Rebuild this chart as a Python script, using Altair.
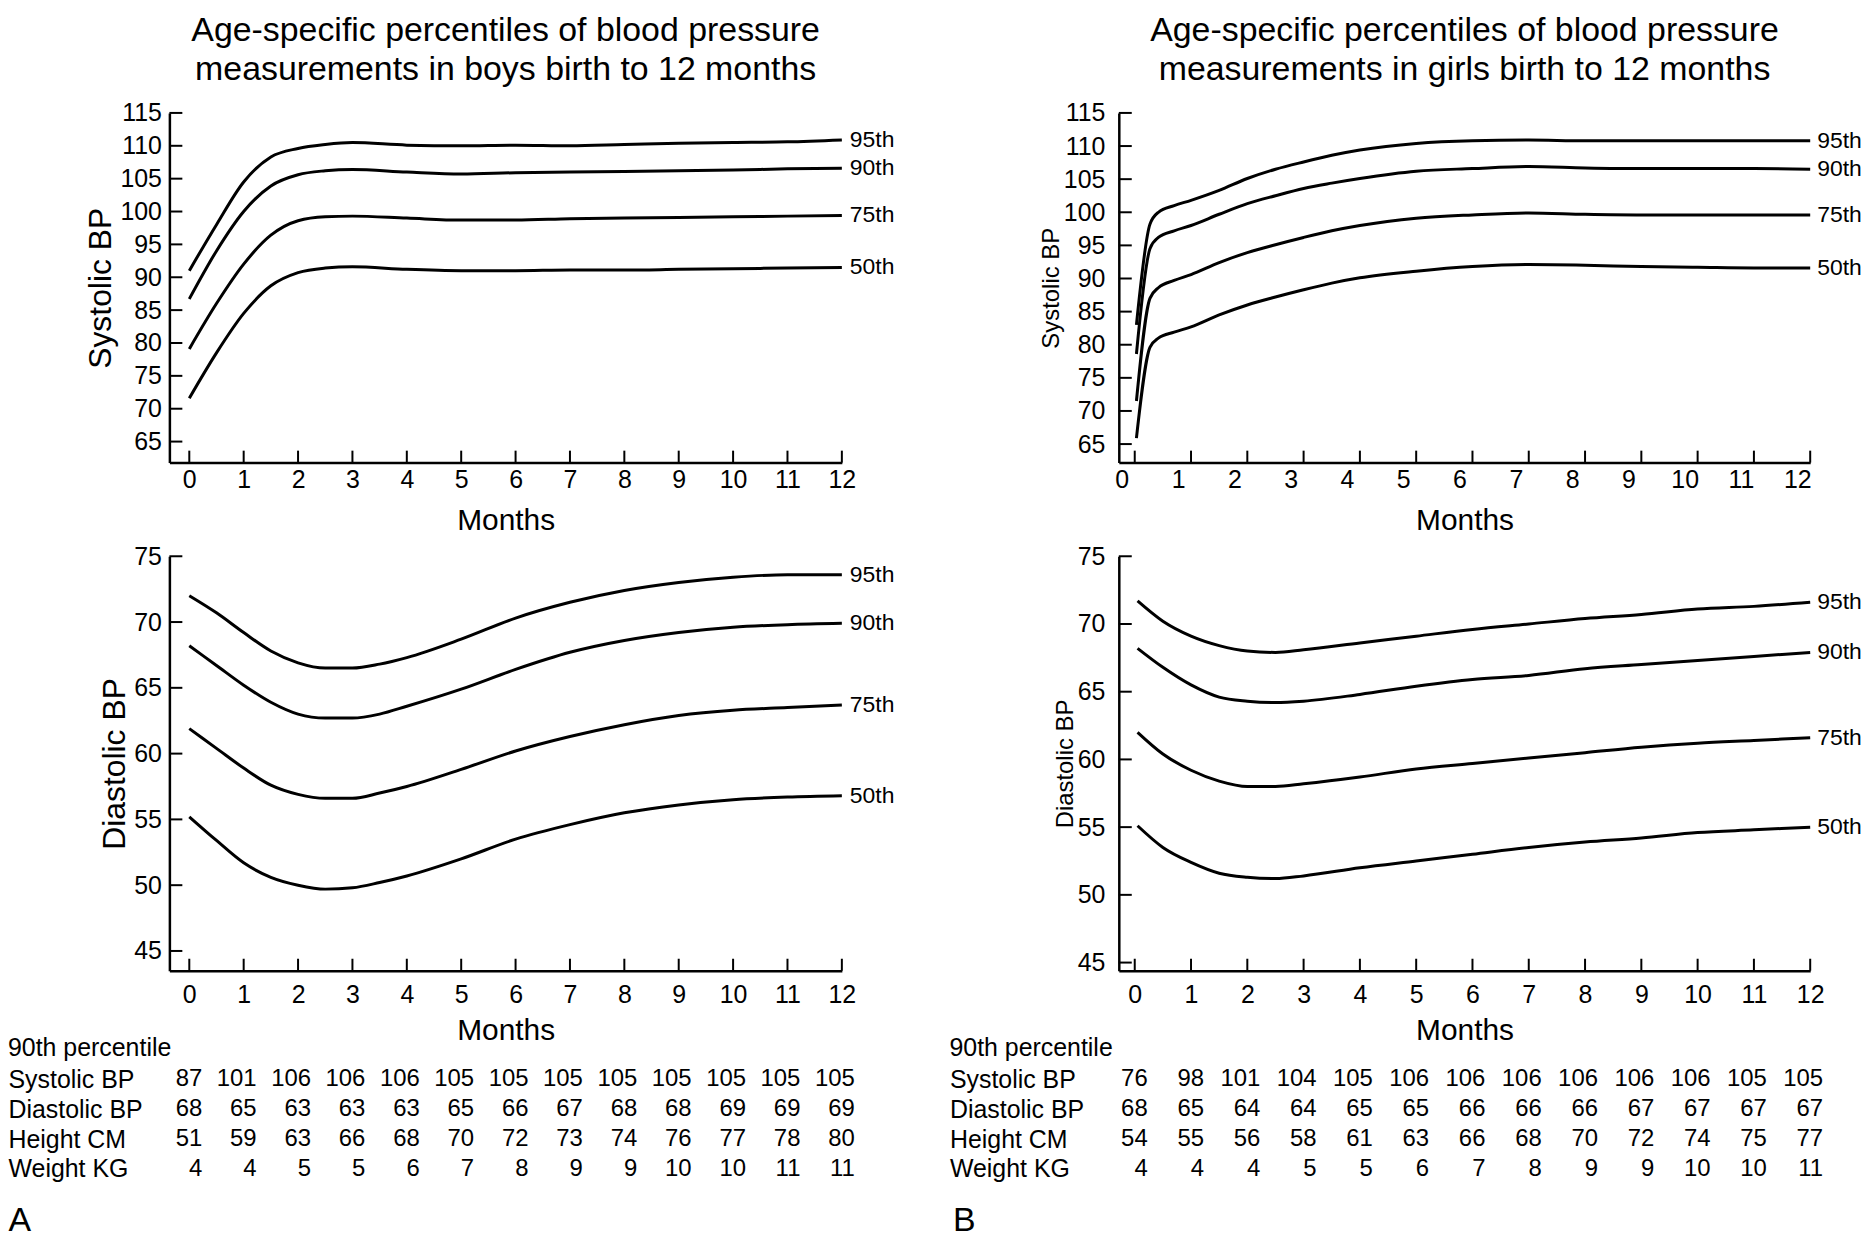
import altair as alt
import pandas as pd

FONT = "Liberation Sans"
PCTS = ["95th", "90th", "75th", "50th"]
MONTH_TICKS = list(range(13))

# ---------------- Boys systolic ----------------
BS_MONTHS = [0, 0.5, 1, 1.5, 2, 2.5, 3, 4, 5, 6, 7, 8, 9, 10, 11, 12]
BS_95 = [91.0, 98.0, 104.5, 108.3, 109.6, 110.2, 110.5, 110.1, 110.0, 110.1, 110.0, 110.2, 110.4, 110.5, 110.6, 110.9]
BS_90 = [86.7, 94.0, 100.0, 103.9, 105.6, 106.2, 106.4, 106.0, 105.7, 105.9, 106.0, 106.1, 106.2, 106.3, 106.5, 106.6]
BS_75 = [79.1, 86.0, 92.0, 96.4, 98.6, 99.2, 99.3, 99.0, 98.7, 98.7, 98.9, 99.0, 99.1, 99.2, 99.3, 99.4]
BS_50 = [71.6, 78.5, 84.5, 88.7, 90.7, 91.4, 91.6, 91.2, 91.0, 91.0, 91.1, 91.1, 91.2, 91.3, 91.4, 91.5]

# ---------------- Boys diastolic ----------------
BD_MONTHS = [0, 0.5, 1, 1.5, 2, 2.5, 3, 3.5, 4, 5, 6, 7, 8, 9, 10, 11, 12]
BD_95 = [72.0, 70.7, 69.2, 67.8, 66.9, 66.5, 66.5, 66.8, 67.3, 68.7, 70.3, 71.5, 72.4, 73.0, 73.4, 73.6, 73.6]
BD_90 = [68.2, 66.7, 65.2, 63.9, 63.0, 62.7, 62.7, 63.0, 63.6, 64.9, 66.4, 67.7, 68.6, 69.2, 69.6, 69.8, 69.9]
BD_75 = [61.9, 60.4, 58.9, 57.6, 56.9, 56.6, 56.6, 57.0, 57.5, 58.8, 60.2, 61.3, 62.2, 62.9, 63.3, 63.5, 63.7]
BD_50 = [55.2, 53.4, 51.7, 50.6, 50.0, 49.7, 49.8, 50.2, 50.7, 52.0, 53.5, 54.6, 55.5, 56.1, 56.5, 56.7, 56.8]

# ---------------- Girls systolic ----------------
GS_MONTHS = [0.03, 0.27, 0.42, 0.7, 1, 1.5, 2, 2.5, 3, 3.5, 4, 5, 6, 7, 8, 9, 10, 11, 12]
GS_95 = [83.0, 98.2, 100.0, 101.0, 101.8, 103.3, 105.1, 106.5, 107.6, 108.6, 109.4, 110.4, 110.8, 110.9, 110.8, 110.8, 110.8, 110.8, 110.8]
GS_90 = [78.6, 94.5, 96.2, 97.2, 98.0, 99.7, 101.3, 102.5, 103.6, 104.4, 105.1, 106.2, 106.6, 106.9, 106.7, 106.6, 106.6, 106.6, 106.5]
GS_75 = [71.5, 87.0, 88.6, 89.7, 90.6, 92.4, 93.9, 95.1, 96.2, 97.2, 98.0, 99.1, 99.6, 99.9, 99.7, 99.6, 99.6, 99.6, 99.6]
GS_50 = [65.9, 79.6, 81.0, 81.9, 82.7, 84.5, 86.0, 87.2, 88.3, 89.3, 90.1, 91.1, 91.8, 92.1, 92.0, 91.8, 91.7, 91.6, 91.6]

# ---------------- Girls diastolic ----------------
GD_MONTHS = [0.05, 0.5, 1, 1.5, 2, 2.5, 3, 4, 5, 6, 7, 8, 9, 10, 11, 12]
GD_95 = [71.7, 70.2, 69.1, 68.4, 68.0, 67.9, 68.1, 68.6, 69.1, 69.6, 70.0, 70.4, 70.7, 71.1, 71.3, 71.6]
GD_90 = [68.2, 66.8, 65.5, 64.6, 64.3, 64.2, 64.3, 64.8, 65.4, 65.9, 66.2, 66.7, 67.0, 67.3, 67.6, 67.9]
GD_75 = [62.0, 60.4, 59.2, 58.4, 58.0, 58.0, 58.2, 58.7, 59.3, 59.7, 60.1, 60.5, 60.9, 61.2, 61.4, 61.6]
GD_50 = [55.1, 53.5, 52.4, 51.6, 51.3, 51.2, 51.4, 52.0, 52.5, 53.0, 53.5, 53.9, 54.2, 54.6, 54.8, 55.0]

# ---------------- 90th percentile tables ----------------
ROWS = ["Systolic BP", "Diastolic BP", "Height CM", "Weight KG"]
BOYS_SYS = [87, 101, 106, 106, 106, 105, 105, 105, 105, 105, 105, 105, 105]
BOYS_DIA = [68, 65, 63, 63, 63, 65, 66, 67, 68, 68, 69, 69, 69]
BOYS_HT = [51, 59, 63, 66, 68, 70, 72, 73, 74, 76, 77, 78, 80]
BOYS_WT = [4, 4, 5, 5, 6, 7, 8, 9, 9, 10, 10, 11, 11]
GIRLS_SYS = [76, 98, 101, 104, 105, 106, 106, 106, 106, 106, 106, 105, 105]
GIRLS_DIA = [68, 65, 64, 64, 65, 65, 66, 66, 66, 67, 67, 67, 67]
GIRLS_HT = [54, 55, 56, 58, 61, 63, 66, 68, 70, 72, 74, 75, 77]
GIRLS_WT = [4, 4, 4, 5, 5, 6, 7, 8, 9, 9, 10, 10, 11]

SYS_TICKS = list(range(65, 116, 5))
DIA_TICKS = list(range(45, 76, 5))

TITLE_BOYS = ["Age-specific percentiles of blood pressure", "measurements in boys birth to 12 months"]
TITLE_GIRLS = ["Age-specific percentiles of blood pressure", "measurements in girls birth to 12 months"]

TICK_FS = 25


def curve_panel(months, series, xdom, ydom, yticks, w, h, ytitle, ytitle_size,
                ylab_pad, ytitle_pad, xlab_pad, xtitle_pad, label_dx,
                xlab_offset=0, title=None):
    rows = []
    for p, vals in zip(PCTS, series):
        for m, v in zip(months, vals):
            rows.append({"month": m, "value": v, "pct": p})
    df = pd.DataFrame(rows)
    ends = pd.DataFrame([{"month": months[-1], "value": vals[-1], "pct": p}
                         for p, vals in zip(PCTS, series)])
    xs = alt.Scale(domain=xdom, nice=False, zero=False)
    ys = alt.Scale(domain=ydom, nice=False, zero=False)
    xaxis = alt.Axis(values=MONTH_TICKS, ticks=False, tickSize=0, domainColor="black",
                     domainWidth=2.5, labelFont=FONT, labelFontSize=TICK_FS, labelColor="black",
                     labelPadding=xlab_pad, labelOffset=xlab_offset, labelFlush=False,
                     labelOverlap=False, labelAngle=0, grid=False, title="Months",
                     titleFont=FONT, titleFontSize=30, titleFontWeight="normal",
                     titleColor="black", titlePadding=xtitle_pad)
    yaxis = alt.Axis(values=yticks, ticks=False, tickSize=0, domainColor="black",
                     domainWidth=2.5, labelFont=FONT, labelFontSize=TICK_FS, labelColor="black",
                     labelPadding=ylab_pad, labelFlush=False, labelOverlap=False, grid=False,
                     title=ytitle, titleFont=FONT, titleFontSize=ytitle_size,
                     titleFontWeight="normal", titleColor="black", titlePadding=ytitle_pad)
    X = alt.X("month:Q", scale=xs, axis=xaxis)
    Y = alt.Y("value:Q", scale=ys, axis=yaxis)
    lines = alt.Chart(df).mark_line(interpolate="monotone", color="black", strokeWidth=3).encode(
        x=X, y=Y, detail="pct:N")
    labels = alt.Chart(ends).mark_text(align="left", baseline="middle", dx=label_dx, font=FONT,
                                       fontSize=23, color="black").encode(x=X, y=Y, text="pct:N")
    xt = alt.Chart(pd.DataFrame({"month": MONTH_TICKS})).mark_rule(
        color="black", strokeWidth=2, y2Offset=-12).encode(
        x=X, y=alt.Y(datum=ydom[0], scale=ys, axis=yaxis), y2=alt.Y2(datum=ydom[0]))
    yt = alt.Chart(pd.DataFrame({"value": yticks})).mark_rule(
        color="black", strokeWidth=2, x2Offset=13).encode(
        y=Y, x=alt.X(datum=xdom[0], scale=xs, axis=xaxis), x2=alt.X2(datum=xdom[0]))
    ch = alt.layer(lines, xt, yt, labels).properties(width=w, height=h)
    if title is not None:
        ch = ch.properties(title=alt.TitleParams(title, font=FONT, fontSize=34, fontWeight="normal",
                                                 color="black", anchor="middle", lineHeight=39,
                                                 offset=14))
    return ch


def table_panel(values_rows, xdom, w, lab_pad, letter, letter_x):
    rows = []
    for rname, vals in zip(ROWS, values_rows):
        for m, v in zip(MONTH_TICKS, vals):
            rows.append({"month": m, "row": rname, "val": str(v)})
    df = pd.DataFrame(rows)
    ch = alt.Chart(df).mark_text(align="right", baseline="middle", dx=13, font=FONT,
                                 fontSize=24, color="black").encode(
        x=alt.X("month:Q", scale=alt.Scale(domain=xdom, nice=False, zero=False),
                axis=alt.Axis(orient="bottom", domain=False, ticks=False, tickSize=0, labels=False,
                              grid=False, title=letter, titleFont=FONT, titleFontSize=34,
                              titleFontWeight="normal", titleColor="black", titleAnchor="start",
                              titleAlign="left", titleX=letter_x, titlePadding=20)),
        y=alt.Y("row:N", sort=ROWS, scale=alt.Scale(type="point", domain=ROWS, padding=0.5),
                axis=alt.Axis(domain=False, ticks=False, tickSize=0, grid=False, labelAlign="left",
                              labelBaseline="middle", labelPadding=lab_pad, labelFont=FONT,
                              labelFontSize=25, labelColor="black", title=None)),
        text="val:N",
    ).properties(width=w, height=120,
                 title=alt.TitleParams("90th percentile", anchor="start", frame="bounds", font=FONT,
                                       fontSize=25, fontWeight="normal", color="black", offset=3))
    return ch


BOYS_X = [-0.366, 12]
GIRLS_X = [-0.283, 12]
BW, GW = 675, 694
SH, DH = 351, 416

sysA = curve_panel(BS_MONTHS, [BS_95, BS_90, BS_75, BS_50], BOYS_X, [61.8, 115], SYS_TICKS, BW, SH,
                   "Systolic BP", 32, 8, 2, 5, 13, 8, title=TITLE_BOYS)
sysB = curve_panel(GS_MONTHS, [GS_95, GS_90, GS_75, GS_50], GIRLS_X, [62.2, 115], SYS_TICKS, GW, SH,
                   "Systolic BP", 24, 14, 0, 5, 13, 7, xlab_offset=-13, title=TITLE_GIRLS)
diaA = curve_panel(BD_MONTHS, [BD_95, BD_90, BD_75, BD_50], BOYS_X, [43.5, 75], DIA_TICKS, BW, DH,
                   "Diastolic BP", 32, 8, 2, 12, 8, 8)
diaB = curve_panel(GD_MONTHS, [GD_95, GD_90, GD_75, GD_50], GIRLS_X, [44.4, 75], DIA_TICKS, GW, DH,
                   "Diastolic BP", 24, 14, 0, 12, 8, 7)
tabA = table_panel([BOYS_SYS, BOYS_DIA, BOYS_HT, BOYS_WT], BOYS_X, BW, 162, "A", -162)
tabB = table_panel([GIRLS_SYS, GIRLS_DIA, GIRLS_HT, GIRLS_WT], GIRLS_X, GW, 170, "B", -167)

chart = alt.concat(sysA, sysB, diaA, diaB, tabA, tabB, columns=2,
                   spacing={"row": 94, "column": 278}, bounds="flush").properties(
    padding={"top": 4, "left": 0, "right": 2, "bottom": 2},
    background="white").configure_view(stroke=None)

chart.save("out.html", embed_options={"renderer": "svg", "actions": False})
